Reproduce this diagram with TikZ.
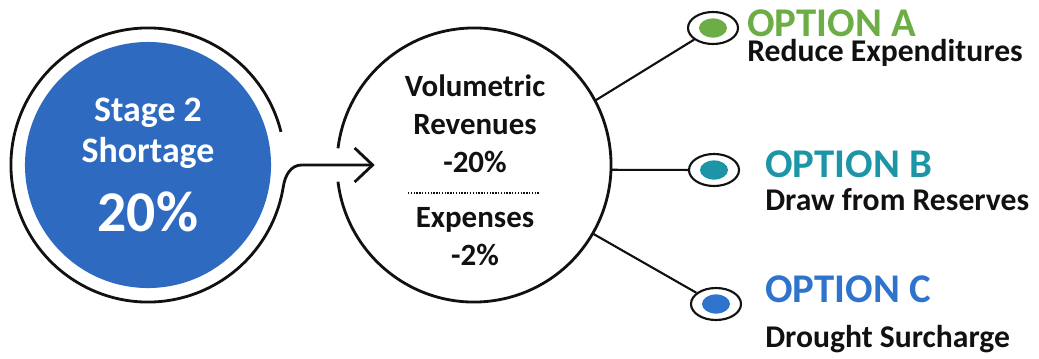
\documentclass[tikz,border=0pt]{standalone}
\usepackage{fontspec}
\setmainfont{Carlito}
\usetikzlibrary{arrows.meta,shapes.geometric,calc}
\definecolor{shortblue}{HTML}{2E6BC0}
\definecolor{optgreen}{HTML}{6DAD45}
\definecolor{optteal}{HTML}{1C95A6}
\definecolor{optblue}{HTML}{2F74CC}
\definecolor{ink}{HTML}{111111}
\tikzset{
  stagedisc/.style={circle,fill=shortblue,draw=none,minimum size=6.15cm,inner sep=0pt},
  hub/.style={circle,draw=none,minimum size=6.85cm,inner sep=0pt},
  ringline/.style={draw=ink,line width=2pt},
  flowarrow/.style={ringline,-{Straight Barb[length=4.5mm,width=8.5mm]}},
  pin/.style={ellipse,draw=ink,line width=1.5pt,fill=white,minimum width=1.25cm,minimum height=0.8cm,inner sep=0pt},
  pindot/.style={ellipse,minimum width=0.7cm,minimum height=0.48cm,inner sep=0pt},
  link/.style={draw=ink,line width=1.5pt},
  sep/.style={draw=ink,line width=1pt,dash pattern=on 1pt off 1pt},
  hubtext/.style={font=\bfseries\fontsize{22}{27}\selectfont,align=center,text=ink,inner sep=0pt,anchor=base},
  stagetext/.style={font=\bfseries\fontsize{25.5}{28.5}\selectfont,align=center,text=white,inner sep=0pt,anchor=base},
  opttitle/.style={font=\bfseries\fontsize{29}{34}\selectfont,anchor=base west,inner sep=0pt},
  optsub/.style={font=\bfseries\fontsize{22.5}{27}\selectfont,text=ink,anchor=base west,inner sep=0pt}
}
\begin{document}
\begin{tikzpicture}[x=0.025cm,y=0.025cm]
\useasboundingbox (0,0) rectangle (1039,358);

% shortage disc
\node[stagedisc] (stage) at (148,193) {};
\node[stagetext] (stagename) at (148,196) {Stage 2\\Shortage};
\node[stagetext,font=\bfseries\fontsize{41}{45}\selectfont] (stagepct) at (148,127) {20\%};

% revenue / expense hub
\node[hub] (hub) at (474,193) {};
\node[hubtext] (revenue) at (475,186) {Volumetric\\Revenues\\-20\%};
\node[hubtext] (expense) at (475,93) {Expenses\\-2\%};
\draw[sep] ($(hub.center)+(-66,-28)$) -- ($(hub.center)+(66,-28)$);
\draw[ringline] (hub.center) ++(187:3.425cm) arc[start angle=187,end angle=533,radius=3.425cm];

% open ring turning into the arrow
\draw[flowarrow] (stage.center) ++(14:3.425cm) arc[start angle=14,end angle=351,radius=3.425cm]
  to[out=81,in=180] ($(hub.west)+(-35,0)$) -- ([xshift=0.95cm]hub.west);

% options
\node[pin] (optA) at (713,330) {};
\node[pin] (optB) at (714,188) {};
\node[pin] (optC) at (716,54) {};
\node[pindot,fill=optgreen] (dotA) at (optA) {};
\node[pindot,fill=optteal] (dotB) at (optB) {};
\node[pindot,fill=optblue] (dotC) at (optC) {};

\node[opttitle,text=optgreen] (titleA) at (747,322) {OPTION A};
\node[optsub] (noteA) at (747,297) {Reduce Expenditures};
\node[opttitle,text=optteal] (titleB) at (765,181) {OPTION B};
\node[optsub] (noteB) at (765,148) {Draw from Reserves};
\node[opttitle,text=optblue] (titleC) at (765,56) {OPTION C};
\node[optsub] (noteC) at (765,11) {Drought Surcharge};

\draw[link] (hub.28) -- (optA);
\draw[link] (hub.-2) -- (optB);
\draw[link] (hub.-30) -- (optC);
\end{tikzpicture}
\end{document}
